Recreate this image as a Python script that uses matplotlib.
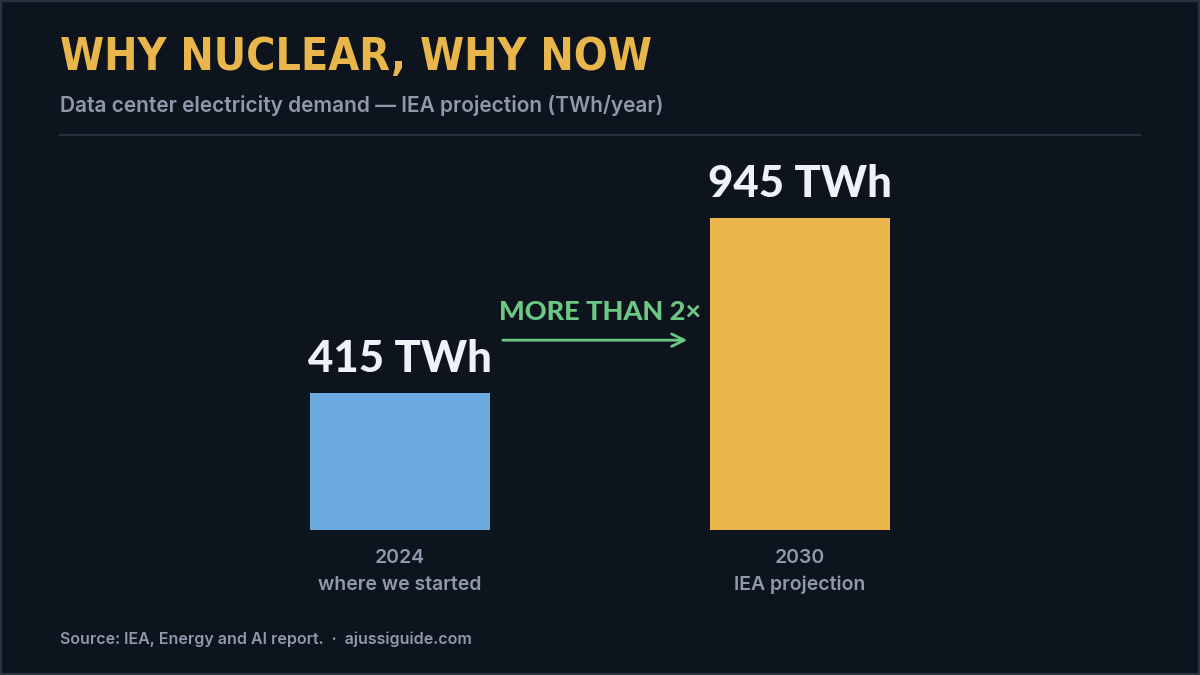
import matplotlib
matplotlib.use('Agg')
import matplotlib.pyplot as plt
from matplotlib.patches import Rectangle

# ---- data ----
years = ["2024", "2030"]
captions = ["where we started", "IEA projection"]
demand_twh = [415, 945]
bar_colors = ["#6aaae0", "#e8b64a"]

BG = "#0e141e"
MUTED = "#8e9aab"
WHITE = "#eef2f7"
GREEN = "#6cc785"
GOLD = "#e8b64a"

fig = plt.figure(figsize=(12, 6.75), dpi=100, facecolor=BG)

# bars axes: baseline at y=530px, 945 reaches y=218px
ax = fig.add_axes([0, (675 - 530) / 675, 1, 312 / 675])
ax.set_facecolor("none")
x = list(range(len(years)))
ax.bar(x, demand_twh, width=0.45, color=bar_colors)
ax.set_xlim(-1, 2)
ax.set_ylim(0, max(demand_twh))
ax.axis("off")

for xi, v in zip(x, demand_twh):
    ax.annotate(f"{v} TWh", (xi, v), xytext=(0, 10), textcoords="offset points",
                ha="center", va="bottom", fontsize=31.5, fontweight="black",
                family="Lato", color=WHITE)
    ax.annotate(years[xi], (xi, 0), xytext=(0, -14), textcoords="offset points",
                ha="center", va="top", fontsize=14, fontweight="semibold",
                family="Inter", color=MUTED)
    ax.annotate(captions[xi], (xi, 0), xytext=(0, -33), textcoords="offset points",
                ha="center", va="top", fontsize=14, fontweight="semibold",
                family="Inter", color=MUTED)

# growth arrow between the bars
ax.annotate("", xy=(0.725, 575), xytext=(0.25, 575),
            arrowprops=dict(arrowstyle="->,head_length=0.9,head_width=0.45",
                            color=GREEN, lw=2))
fig.text(600 / 1200, 1 - 312 / 675, "MORE THAN 2×", ha="center", va="center",
         fontsize=19.5, fontweight="black", family="Lato", color=GREEN)

# header
fig.text(60 / 1200, 1 - 58 / 675, "WHY NUCLEAR, WHY NOW", ha="left", va="center",
         fontsize=32, fontweight="bold", family="DejaVu Sans", stretch="condensed",
         color=GOLD)
fig.text(60 / 1200, 1 - 105 / 675,
         "Data center electricity demand — IEA projection (TWh/year)",
         ha="left", va="center", fontsize=15, fontweight="semibold",
         family="Inter", color=MUTED)
fig.add_artist(plt.Line2D([60 / 1200, 1140 / 1200], [1 - 135 / 675] * 2,
                          color="#2a3340", lw=1.2))

fig.text(60 / 1200, 1 - 639 / 675,
         "Source: IEA, Energy and AI report.  ·  ajussiguide.com",
         ha="left", va="center", fontsize=11.5, fontweight="semibold",
         family="Inter", color=MUTED)

# outer frame
fig.add_artist(Rectangle((0, 0), 1, 1, transform=fig.transFigure, fill=False,
                         edgecolor="#2a3340", lw=3))

fig.savefig("out.png", dpi=100, facecolor=BG)
